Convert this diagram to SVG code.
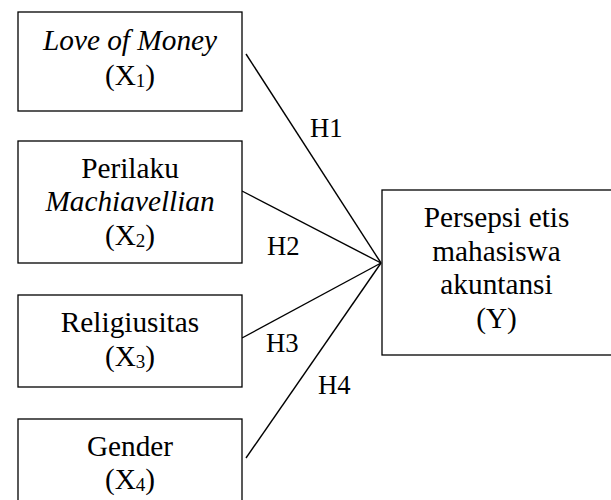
<svg xmlns="http://www.w3.org/2000/svg" width="611" height="500" viewBox="0 0 611 500">
<style>
.box{fill:#fff;stroke:#000;stroke-width:1.3}
.t{font-family:"Liberation Serif","Times New Roman",serif;font-size:29.3px;fill:#000;text-anchor:middle}
.i{font-style:italic}
.s{font-size:19px}
.h{font-family:"Liberation Serif","Times New Roman",serif;font-size:26.7px;fill:#000}
.ln{stroke:#000;stroke-width:1.4;fill:none}
</style>
<rect width="611" height="500" fill="#fff"/>
<g id="connectors">
<line class="ln" x1="246" y1="54" x2="381" y2="263"/>
<line class="ln" x1="242" y1="191" x2="381" y2="263"/>
<line class="ln" x1="242" y1="338" x2="381" y2="263"/>
<line class="ln" x1="246" y1="458" x2="381" y2="263"/>
<text class="h" x="310" y="137">H1</text>
<text class="h" x="267" y="255">H2</text>
<text class="h" x="266" y="352">H3</text>
<text class="h" x="318" y="394">H4</text>
</g>
<g id="x1">
<rect class="box" x="18" y="12" width="224" height="99"/>
<text class="t i" x="130" y="50">Love of Money</text>
<text class="t" x="130" y="85">(X<tspan class="s" dy="2">1</tspan><tspan dy="-2">)</tspan></text>
</g>
<g id="x2">
<rect class="box" x="18" y="141" width="224" height="122"/>
<text class="t" x="130" y="178">Perilaku</text>
<text class="t i" x="130" y="211">Machiavellian</text>
<text class="t" x="130" y="245">(X<tspan class="s" dy="2">2</tspan><tspan dy="-2">)</tspan></text>
</g>
<g id="x3">
<rect class="box" x="18" y="295" width="224" height="92"/>
<text class="t" x="130" y="332">Religiusitas</text>
<text class="t" x="130" y="366">(X<tspan class="s" dy="2">3</tspan><tspan dy="-2">)</tspan></text>
</g>
<g id="x4">
<rect class="box" x="18" y="419" width="224" height="100"/>
<text class="t" x="130" y="456">Gender</text>
<text class="t" x="130" y="489">(X<tspan class="s" dy="2">4</tspan><tspan dy="-2">)</tspan></text>
</g>
<g id="y">
<rect class="box" x="382" y="190" width="240" height="165"/>
<text class="t" x="496.5" y="227">Persepsi etis</text>
<text class="t" x="496.5" y="260.5">mahasiswa</text>
<text class="t" x="496.5" y="294">akuntansi</text>
<text class="t" x="496.5" y="327.5">(Y)</text>
</g>
</svg>
